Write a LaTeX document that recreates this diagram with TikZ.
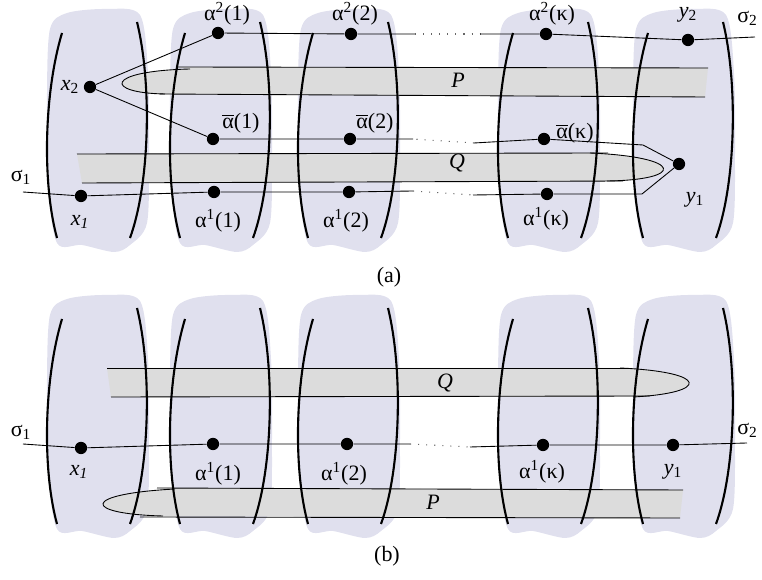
\documentclass[tikz,border=0pt]{standalone}
\usepackage{fontspec}
\setmainfont{Liberation Serif}
\definecolor{blobcol}{RGB}{224,224,238}
\definecolor{tubecol}{RGB}{220,220,220}
\tikzset{
    dot/.style={circle,fill=black,inner sep=0pt,minimum size=7pt},
    txt/.style={inner sep=0pt,font=\fontsize{12.5}{14}\selectfont},
    wall/.style={line width=1.2pt},
    walk/.style={line width=0.5pt},
    gap/.style={line width=0.6pt,black!60,dash pattern=on 0.6pt off 4pt},
    tube/.style={fill=tubecol},
}
\newcommand{\abar}{$\overline{\mbox{α}}$}

\begin{document}
\begin{tikzpicture}[x=0.02cm,y=-0.02cm]
    \useasboundingbox (0,0) rectangle (762,580);

    % shaded sets
    \foreach \T in {33,319} {
        \foreach \L in {62,185,313,513,648} {
            \fill[blobcol,shift={(\L,\T)}] plot[smooth cycle] coordinates
                {(-12,-4) (5,-20) (45,-24) (78,-18) (86,40) (87,120) (85,190)
                 (68,212) (52,219) (20,212) (-5,210) (-14,150) (-15,60)};
        }
    }

    % tubes of (a)
    \fill[tube] (177,67) -- (708,68) -- (705,97) -- (165,94)
        .. controls (104,93) and (104,71) .. (190,69) -- cycle;
    \draw[walk] (177,67) -- (708,68);
    \draw[walk] (160,94) -- (705,97);
    \draw[walk] (190,69) .. controls (104,71) and (104,93) .. (165,94);
    \fill[tube] (77,154) -- (590,153) .. controls (685,157) and (685,180) .. (607,181)
        -- (82,183) -- cycle;
    \draw[walk] (77,154) -- (608,153);
    \draw[walk] (82,183) -- (623,181);
    \draw[walk] (590,153) .. controls (685,157) and (685,180) .. (607,181);

    % tubes of (b)
    \fill[tube] (107,368) -- (620,368) .. controls (710,372) and (710,393) .. (633,397)
        -- (111,397) -- cycle;
    \draw[walk] (107,368) -- (630,368);
    \draw[walk] (111,397) -- (650,396);
    \draw[walk] (620,368) .. controls (710,372) and (710,393) .. (633,397);
    \fill[tube] (157,488) -- (683,490) -- (680,518) -- (163,516)
        .. controls (82,514) and (80,494) .. (175,489) -- cycle;
    \draw[walk] (157,488) -- (683,490);
    \draw[walk] (140,517) -- (680,518);
    \draw[walk] (175,489) .. controls (80,494) and (82,514) .. (163,516);

    % walls
    \foreach \T in {33,319} {
        \foreach \L in {62,185,313,513,648} {
            \begin{scope}[shift={(\L,\T)}]
                \draw[wall] (0,0) .. controls (-18,60) and (-20,150) .. (-5,205);
                \draw[wall] (75,-11) .. controls (90,50) and (88,150) .. (68,205);
            \end{scope}
        }
    }

    % (a)
    \node[dot] (x2) at (90,87) {};
    \node[dot] (x1) at (81,196) {};
    \node[dot] (a21) at (218,33) {};
    \node[dot] (a22) at (351,34) {};
    \node[dot] (a2k) at (546,34) {};
    \node[dot] (y2) at (688,40) {};
    \node[dot] (ab1) at (213,139) {};
    \node[dot] (ab2) at (350,139) {};
    \node[dot] (abk) at (544,139) {};
    \node[dot] (a11) at (214,192) {};
    \node[dot] (a12) at (349,192) {};
    \node[dot] (a1k) at (547,194) {};
    \node[dot] (y1) at (679,164) {};

    \coordinate (s1) at (23,192);
    \coordinate (s2) at (755,37);
    \coordinate (t1) at (415,34);
    \coordinate (t2) at (480,34);
    \coordinate (m1) at (413,139);
    \coordinate (m2) at (474,143);
    \coordinate (m3) at (643,145);
    \coordinate (b1) at (413,191);
    \coordinate (b2) at (473,195);
    \coordinate (b3) at (642,194);

    \draw[walk] (s1) -- (x1) -- (a11) -- (a12) -- (b1);
    \draw[gap] (b1) -- (b2);
    \draw[walk] (b2) -- (a1k) -- (b3) -- (y1) -- (m3) -- (abk) -- (m2);
    \draw[gap] (m2) -- (m1);
    \draw[walk] (m1) -- (ab2) -- (ab1) -- (x2) -- (a21) -- (a22) -- (t1);
    \draw[gap] (t1) -- (t2);
    \draw[walk] (t2) -- (a2k) -- (y2) -- (s2);

    \node[txt] (lx2) at (70,87) {\textit{x}\textsubscript{2}};
    \node[txt] (lx1) at (80,222) {\textit{x\textsubscript{1}}};
    \node[txt] (ls1) at (21,177) {σ\textsubscript{1}};
    \node[txt,anchor=west] (ls2) at (737,18) {σ\textsubscript{2}};
    \node[txt] (ly2) at (688,15) {\textit{y}\textsubscript{2}};
    \node[txt] (ly1) at (695,200) {\textit{y}\textsubscript{1}};
    \node[txt] (la21) at (227,14) {α\textsuperscript{2}(1)};
    \node[txt] (la22) at (355,14) {α\textsuperscript{2}(2)};
    \node[txt] (la2k) at (552,14) {α\textsuperscript{2}(κ)};
    \node[txt] (lab1) at (241,123) {\abar(1)};
    \node[txt] (lab2) at (375,123) {\abar(2)};
    \node[txt] (labk) at (575,133) {\abar(κ)};
    \node[txt] (la11) at (218,221) {α\textsuperscript{1}(1)};
    \node[txt] (la12) at (346,221) {α\textsuperscript{1}(2)};
    \node[txt] (la1k) at (546,219) {α\textsuperscript{1}(κ)};
    \node[txt] (lPa) at (458,80) {\textit{P}};
    \node[txt] (lQa) at (457,163) {\textit{Q}};
    \node[txt] (capa) at (389,277) {(a)};

    % (b)
    \node[dot] (x1b) at (81,448) {};
    \node[dot] (a11b) at (213,444) {};
    \node[dot] (a12b) at (347,444) {};
    \node[dot] (a1kb) at (543,445) {};
    \node[dot] (y1b) at (673,445) {};

    \coordinate (s1b) at (23,444);
    \coordinate (s2b) at (747,443);
    \coordinate (g1) at (410,444);
    \coordinate (g2) at (470,447);

    \draw[walk] (s1b) -- (x1b) -- (a11b) -- (a12b) -- (g1);
    \draw[gap] (g1) -- (g2);
    \draw[walk] (g2) -- (a1kb) -- (y1b) -- (s2b);

    \node[txt] (ls1b) at (21,432) {σ\textsubscript{1}};
    \node[txt,anchor=west] (ls2b) at (737,430) {σ\textsubscript{2}};
    \node[txt] (lx1b) at (79,472) {\textit{x\textsubscript{1}}};
    \node[txt] (ly1b) at (673,472) {\textit{y}\textsubscript{1}};
    \node[txt] (la11b) at (218,474) {α\textsuperscript{1}(1)};
    \node[txt] (la12b) at (344,474) {α\textsuperscript{1}(2)};
    \node[txt] (la1kb) at (542,472) {α\textsuperscript{1}(κ)};
    \node[txt] (lQb) at (445,383) {\textit{Q}};
    \node[txt] (lPb) at (433,502) {\textit{P}};
    \node[txt] (capb) at (387,556) {(b)};
\end{tikzpicture}
\end{document}
